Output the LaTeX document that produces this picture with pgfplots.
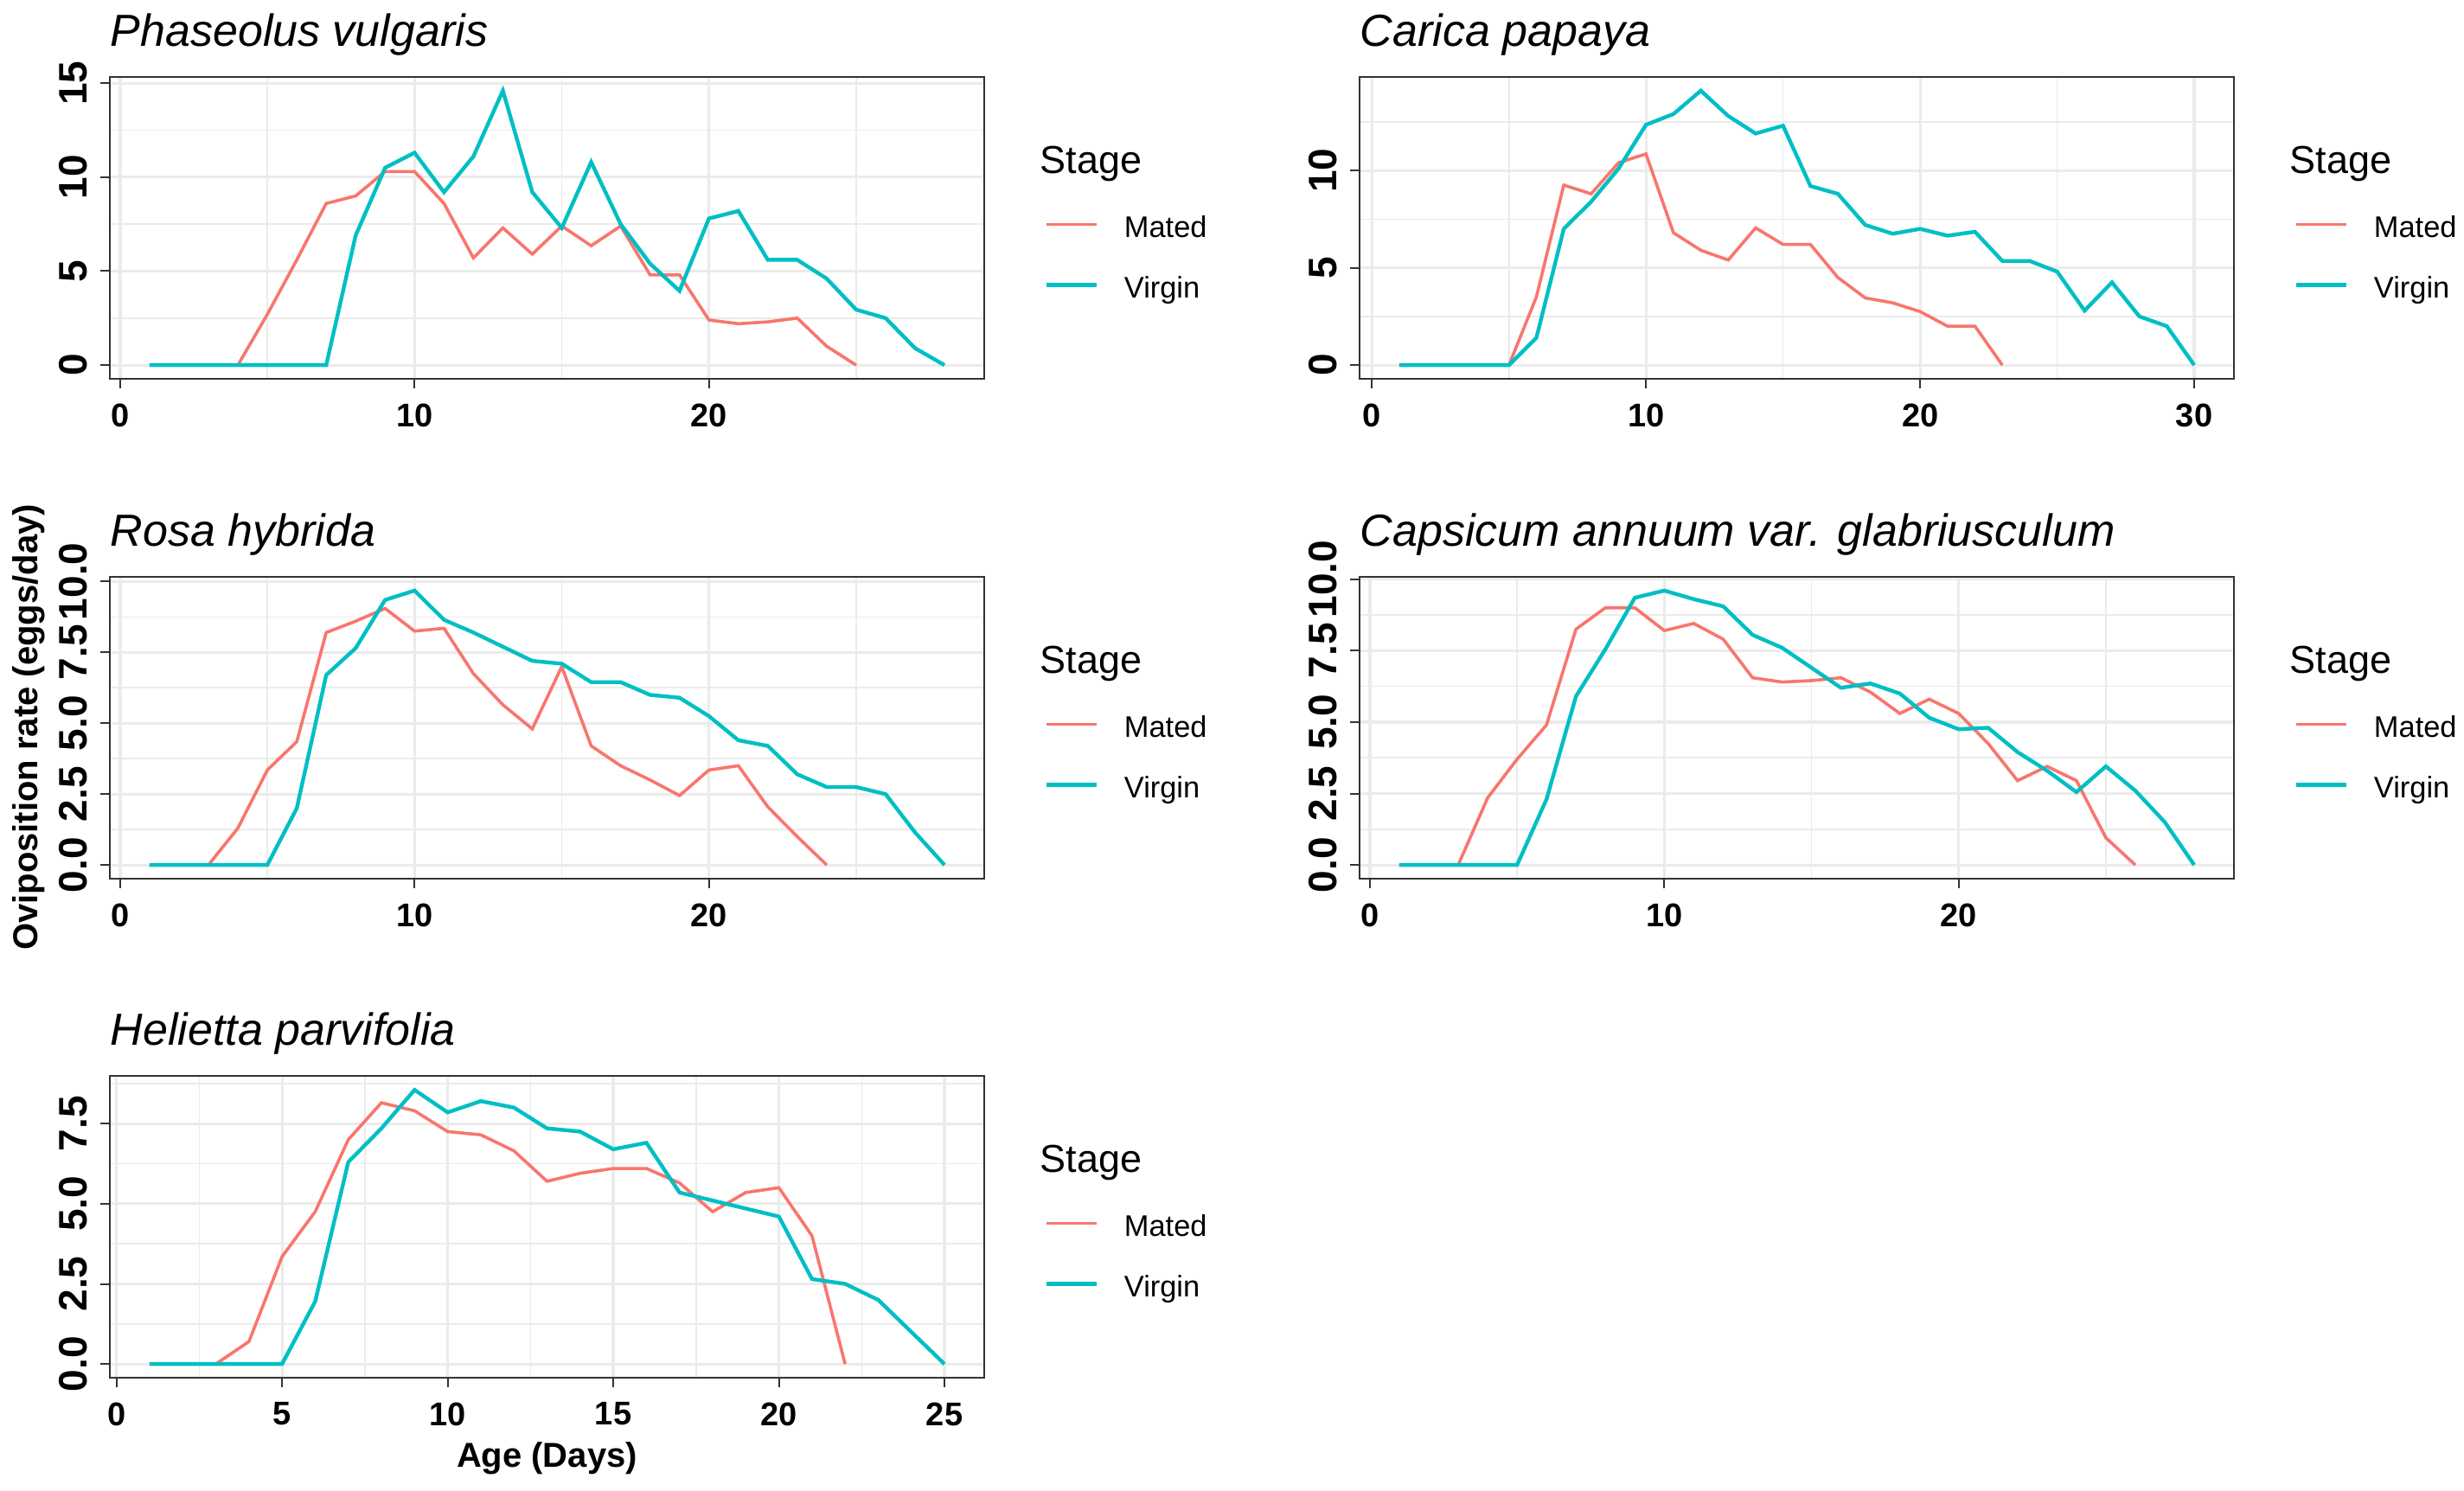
\documentclass[border=0pt]{standalone}
\usepackage{fontspec}
\setmainfont{Liberation Sans}
\usepackage{pgfplots}
\pgfplotsset{compat=1.18}

\definecolor{mated}{HTML}{F8766D}
\definecolor{virgin}{HTML}{00BFC4}
\definecolor{gridc}{HTML}{EBEBEB}
\definecolor{frame}{HTML}{333333}

% one ggplot-like facet panel; 1 px of the reference = 0.25pt
\pgfplotsset{
  panel/.style={
    scale only axis, width=252.75pt, height=87.25pt,
    anchor=north west, clip=false,
    axis line style={frame, line width=0.55pt},
    tick pos=left, tick align=outside,
    major tick length=2.75pt, minor tick length=0pt,
    every tick/.append style={frame, line width=0.5pt},
    grid=both,
    major grid style={gridc, line width=0.8pt},
    minor grid style={gridc, line width=0.4pt},
    xticklabel style={anchor=north, inner sep=4.25pt,
      font=\fontsize{9.5}{11}\selectfont\bfseries},
    yticklabel style={rotate=90, anchor=south, inner sep=3.5pt,
      font=\fontsize{11.5}{13}\selectfont\bfseries},
    title style={at={(axis description cs:0,1)}, anchor=base west,
      yshift=3pt, inner sep=0pt,
      font=\fontsize{13}{15}\selectfont\itshape},
    legend style={draw=none, fill=none, inner sep=0pt,
      at={(axis description cs:1.068,0.411)}, anchor=west,
      row sep=6.4pt, column sep=7.5pt,
      nodes={inner sep=0pt, text height=9.3pt, text depth=1.8pt},
      font=\fontsize{8.6}{10}\selectfont},
    legend cell align=left,
    legend image code/.code={\draw[##1, line cap=butt] (0pt,0pt) -- (14.5pt,0pt);},
  },
  matedline/.style={mated, line width=0.9pt, mark=none},
  virginline/.style={virgin, line width=1.1pt, mark=none},
}
\newcommand{\stagetitle}{%
  \node[anchor=base west, inner sep=0pt, font=\fontsize{11.25}{13}\selectfont]
    at (axis description cs:1.0633,0.681) {Stage};}

\begin{document}
\begin{tikzpicture}
\useasboundingbox (0pt,0pt) rectangle (712.25pt,-431pt);

% ---- Phaseolus vulgaris
\begin{axis}[panel, at={(31.75pt,-22.25pt)},
  xmin=-0.35, xmax=29.35, ymin=-0.73, ymax=15.33,
  xtick={0,10,20}, xticklabels={0,10,20}, minor xtick={5,15,25},
  ytick={0,5,10,15}, yticklabels={0,5,10,15}, minor ytick={2.5,7.5,12.5},
  title={Phaseolus vulgaris}]
\addplot[matedline] coordinates {(1,0)(2,0)(3,0)(4,0)(5,2.7)(6,5.6)(7,8.6)(8,9.0)(9,10.3)(10,10.3)(11,8.6)(12,5.7)(13,7.3)(14,5.9)(15,7.4)(16,6.35)(17,7.4)(18,4.8)(19,4.8)(20,2.4)(21,2.2)(22,2.3)(23,2.5)(24,1.0)(25,0)};
\addlegendentry{Mated}
\addplot[virginline] coordinates {(1,0)(2,0)(3,0)(4,0)(5,0)(6,0)(7,0)(8,6.9)(9,10.5)(10,11.3)(11,9.2)(12,11.1)(13,14.6)(14,9.2)(15,7.3)(16,10.8)(17,7.5)(18,5.4)(19,3.95)(20,7.8)(21,8.2)(22,5.6)(23,5.6)(24,4.6)(25,2.95)(26,2.5)(27,0.9)(28,0)};
\addlegendentry{Virgin}
\stagetitle
\end{axis}

% ---- Carica papaya
\begin{axis}[panel, at={(393pt,-22.25pt)},
  xmin=-0.45, xmax=31.45, ymin=-0.705, ymax=14.805,
  xtick={0,10,20,30}, xticklabels={0,10,20,30}, minor xtick={5,15,25},
  ytick={0,5,10}, yticklabels={0,5,10}, minor ytick={2.5,7.5,12.5},
  title={Carica papaya}]
\addplot[matedline] coordinates {(1,0)(2,0)(3,0)(4,0)(5,0)(6,3.5)(7,9.25)(8,8.8)(9,10.4)(10,10.85)(11,6.8)(12,5.9)(13,5.4)(14,7.05)(15,6.2)(16,6.2)(17,4.5)(18,3.45)(19,3.2)(20,2.75)(21,2.0)(22,2.0)(23,0)};
\addlegendentry{Mated}
\addplot[virginline] coordinates {(1,0)(2,0)(3,0)(4,0)(5,0)(6,1.4)(7,7.0)(8,8.4)(9,10.1)(10,12.35)(11,12.9)(12,14.1)(13,12.8)(14,11.9)(15,12.3)(16,9.2)(17,8.8)(18,7.2)(19,6.75)(20,7.0)(21,6.65)(22,6.85)(23,5.35)(24,5.35)(25,4.8)(26,2.8)(27,4.25)(28,2.5)(29,2.0)(30,0)};
\addlegendentry{Virgin}
\stagetitle
\end{axis}

% ---- Rosa hybrida
\begin{axis}[panel, at={(31.75pt,-166.75pt)},
  xmin=-0.35, xmax=29.35, ymin=-0.484, ymax=10.164,
  xtick={0,10,20}, xticklabels={0,10,20}, minor xtick={5,15,25},
  ytick={0,2.5,5,7.5,10}, yticklabels={0.0,2.5,5.0,7.5,10.0},
  minor ytick={1.25,3.75,6.25,8.75},
  title={Rosa hybrida}]
\addplot[matedline] coordinates {(1,0)(2,0)(3,0)(4,1.3)(5,3.35)(6,4.35)(7,8.2)(8,8.6)(9,9.05)(10,8.25)(11,8.35)(12,6.75)(13,5.65)(14,4.8)(15,7.0)(16,4.2)(17,3.5)(18,3.0)(19,2.45)(20,3.35)(21,3.5)(22,2.05)(23,1.0)(24,0)};
\addlegendentry{Mated}
\addplot[virginline] coordinates {(1,0)(2,0)(3,0)(4,0)(5,0)(6,2.0)(7,6.7)(8,7.65)(9,9.35)(10,9.68)(11,8.65)(12,8.2)(13,7.7)(14,7.2)(15,7.1)(16,6.45)(17,6.45)(18,6.0)(19,5.9)(20,5.25)(21,4.4)(22,4.2)(23,3.2)(24,2.75)(25,2.75)(26,2.5)(27,1.15)(28,0)};
\addlegendentry{Virgin}
\stagetitle
\end{axis}

% ---- Capsicum annuum var. glabriusculum
\begin{axis}[panel, at={(393pt,-166.75pt)},
  xmin=-0.35, xmax=29.35, ymin=-0.48, ymax=10.08,
  xtick={0,10,20}, xticklabels={0,10,20}, minor xtick={5,15,25},
  ytick={0,2.5,5,7.5,10}, yticklabels={0.0,2.5,5.0,7.5,10.0},
  minor ytick={1.25,3.75,6.25,8.75},
  title={Capsicum annuum var. glabriusculum}]
\addplot[matedline] coordinates {(1,0)(2,0)(3,0)(4,2.35)(5,3.7)(6,4.9)(7,8.25)(8,9.0)(9,9.0)(10,8.2)(11,8.45)(12,7.9)(13,6.55)(14,6.4)(15,6.45)(16,6.55)(17,6.05)(18,5.3)(19,5.8)(20,5.3)(21,4.25)(22,2.95)(23,3.45)(24,2.95)(25,0.95)(26,0)};
\addlegendentry{Mated}
\addplot[virginline] coordinates {(1,0)(2,0)(3,0)(4,0)(5,0)(6,2.3)(7,5.9)(8,7.55)(9,9.35)(10,9.6)(11,9.3)(12,9.05)(13,8.05)(14,7.6)(15,6.9)(16,6.2)(17,6.35)(18,6.0)(19,5.15)(20,4.75)(21,4.8)(22,3.95)(23,3.3)(24,2.55)(25,3.45)(26,2.6)(27,1.5)(28,0)};
\addlegendentry{Virgin}
\stagetitle
\end{axis}

% ---- Helietta parvifolia
\begin{axis}[panel, at={(31.75pt,-311pt)},
  xmin=-0.2, xmax=26.2, ymin=-0.428, ymax=8.988,
  xtick={0,5,10,15,20,25}, xticklabels={0,5,10,15,20,25},
  minor xtick={2.5,7.5,12.5,17.5,22.5},
  ytick={0,2.5,5,7.5}, yticklabels={0.0,2.5,5.0,7.5},
  minor ytick={1.25,3.75,6.25,8.75},
  title={Helietta parvifolia},
  xlabel={Age (Days)},
  xlabel style={at={(axis description cs:0.5,-0.2951)}, anchor=base,
    inner sep=0pt, font=\fontsize{10}{12}\selectfont\bfseries}]
\addplot[matedline] coordinates {(1,0)(2,0)(3,0)(4,0.7)(5,3.35)(6,4.75)(7,7.0)(8,8.15)(9,7.9)(10,7.25)(11,7.15)(12,6.65)(13,5.7)(14,5.95)(15,6.1)(16,6.1)(17,5.65)(18,4.75)(19,5.35)(20,5.5)(21,4.0)(22,0)};
\addlegendentry{Mated}
\addplot[virginline] coordinates {(1,0)(2,0)(3,0)(4,0)(5,0)(6,1.95)(7,6.3)(8,7.35)(9,8.55)(10,7.85)(11,8.2)(12,8.0)(13,7.35)(14,7.25)(15,6.7)(16,6.9)(17,5.35)(18,5.1)(19,4.85)(20,4.6)(21,2.65)(22,2.5)(23,2.0)(24,1.0)(25,0)};
\addlegendentry{Virgin}
\stagetitle
\end{axis}

\node[rotate=90, anchor=base, inner sep=0pt, font=\fontsize{10}{12}\selectfont\bfseries]
  at (10.75pt,-210.25pt) {Oviposition rate (eggs/day)};
\end{tikzpicture}
\end{document}
